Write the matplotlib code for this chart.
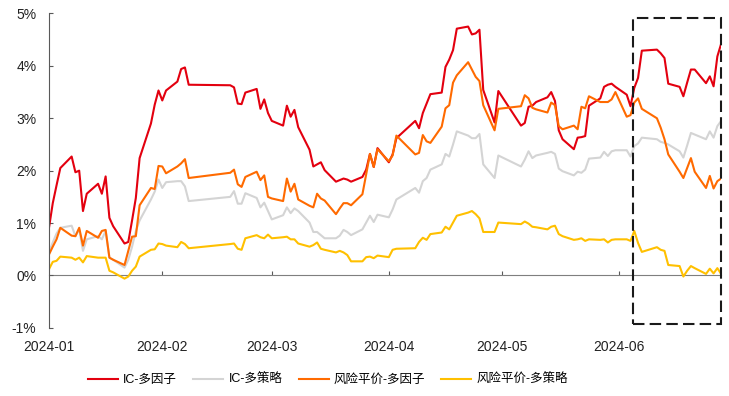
import numpy as np
import pandas as pd
import matplotlib
matplotlib.use("Agg")
import matplotlib.pyplot as plt
import matplotlib.dates as mdates
from matplotlib.patches import Rectangle
from matplotlib.ticker import FuncFormatter

plt.rcParams['font.family'] = ['Liberation Sans', 'Noto Sans CJK SC']
plt.rcParams['axes.unicode_minus'] = False

# trading days, 2024 H1 (A-share calendar)
holidays = ['2024-02-09', '2024-02-12', '2024-02-13', '2024-02-14', '2024-02-15',
            '2024-02-16', '2024-04-04', '2024-04-05', '2024-05-01', '2024-05-02',
            '2024-05-03', '2024-06-10']
dates = pd.bdate_range('2024-01-02', '2024-06-28')
dates = dates[~dates.isin(pd.to_datetime(holidays))]

labels = ['IC-多因子', 'IC-多策略', '风险平价-多因子', '风险平价-多策略']
colors = ['#E3000F', '#D4D4D4', '#FF6A00', '#FFC000']

# cumulative excess return, %
ic_factor = [
    0.91, 1.38, 1.72, 2.05, 2.27, 1.97, 2.00, 1.23, 1.56, 1.75, 1.56, 1.89, 1.10, 0.94, 0.61, 0.64, 1.05, 1.48, 2.24, 2.90, 3.26, 3.53,
    3.34, 3.53, 3.70, 3.94, 3.97, 3.64, 3.63, 3.59, 3.28, 3.27, 3.49, 3.56, 3.18, 3.36, 3.10,
    2.95, 2.86, 3.24, 3.03, 3.16, 2.83, 2.40, 2.08, 2.12, 2.16, 2.01, 1.79, 1.82, 1.85, 1.83, 1.79, 1.88, 2.02, 2.32, 2.07, 2.43,
    2.16, 2.31, 2.62, 2.95, 2.81, 3.10, 3.28, 3.46, 3.49, 3.98, 4.12, 4.30, 4.71, 4.75, 4.60, 4.62, 4.69, 3.54, 2.92, 3.52,
    2.86, 2.91, 3.22, 3.24, 3.31, 3.40, 3.50, 3.33, 2.77, 2.60, 2.41, 2.63, 2.64, 2.66, 3.24, 3.38, 3.60, 3.64, 3.66, 3.60,
    3.45, 3.23, 3.58, 3.77, 4.29, 4.31, 4.24, 4.15, 3.66, 3.60, 3.42, 3.68, 3.93, 3.93, 3.67, 3.80, 3.61, 4.18, 4.42]
ic_multi = [
    0.44, 0.63, 0.80, 0.91, 0.95, 0.75, 0.88, 0.47, 0.69, 0.75, 0.69, 0.85, 0.34, 0.30, 0.15, 0.30, 0.55, 0.85, 1.05, 1.45, 1.60, 1.83,
    1.67, 1.78, 1.80, 1.80, 1.70, 1.42, 1.50, 1.61, 1.37, 1.37, 1.57, 1.48, 1.30, 1.39, 1.23,
    1.07, 1.15, 1.30, 1.19, 1.28, 1.23, 1.01, 0.83, 0.83, 0.77, 0.71, 0.71, 0.76, 0.87, 0.83, 0.77, 0.88, 1.01, 1.14, 1.02, 1.16,
    1.11, 1.26, 1.45, 1.67, 1.58, 1.80, 1.86, 2.02, 2.12, 2.32, 2.27, 2.50, 2.75, 2.67, 2.62, 2.62, 2.70, 2.12, 1.86, 2.29,
    2.08, 2.21, 2.37, 2.24, 2.29, 2.34, 2.36, 2.32, 2.04, 1.99, 1.91, 1.98, 1.96, 2.02, 2.23, 2.25, 2.36, 2.28, 2.37, 2.39,
    2.39, 2.27, 2.47, 2.52, 2.63, 2.60, 2.55, 2.53, 2.50, 2.37, 2.25, 2.48, 2.72, 2.69, 2.60, 2.75, 2.63, 2.85, 2.95]
rp_factor = [
    0.40, 0.55, 0.69, 0.91, 0.76, 0.75, 0.91, 0.57, 0.85, 0.72, 0.85, 0.87, 0.34, 0.30, 0.20, 0.47, 0.74, 0.75, 1.34, 1.67, 1.65, 2.09,
    2.08, 1.95, 2.08, 2.14, 2.22, 1.86, 1.96, 2.02, 1.74, 1.69, 1.88, 1.98, 1.82, 1.91, 1.50,
    1.47, 1.42, 1.85, 1.60, 1.75, 1.45, 1.33, 1.30, 1.56, 1.47, 1.43, 1.17, 1.28, 1.38, 1.38, 1.34, 1.55, 1.93, 2.32, 2.07, 2.41,
    2.18, 2.29, 2.67, 2.31, 2.34, 2.68, 2.56, 2.53, 2.84, 3.19, 3.25, 3.68, 3.82, 4.07, 3.93, 3.79, 3.71, 3.25, 2.77, 3.18,
    3.23, 3.44, 3.38, 3.20, 3.17, 3.11, 3.30, 3.25, 2.85, 2.79, 2.86, 2.79, 3.22, 3.19, 3.42, 3.31, 3.31, 3.31, 3.36, 3.50,
    3.03, 3.06, 3.30, 3.38, 3.18, 3.00, 2.82, 2.60, 2.31, 1.98, 1.86, 2.05, 2.24, 1.98, 1.67, 1.90, 1.66, 1.80, 1.85]
rp_multi = [
    0.12, 0.26, 0.28, 0.36, 0.34, 0.30, 0.34, 0.25, 0.37, 0.34, 0.34, 0.34, 0.09, 0.06, -0.06, -0.02, 0.09, 0.17, 0.36, 0.49, 0.50, 0.61,
    0.60, 0.57, 0.54, 0.64, 0.60, 0.52, 0.60, 0.61, 0.51, 0.49, 0.71, 0.77, 0.73, 0.71, 0.78,
    0.71, 0.73, 0.74, 0.69, 0.69, 0.61, 0.55, 0.58, 0.63, 0.51, 0.49, 0.44, 0.47, 0.44, 0.39, 0.27, 0.27, 0.35, 0.36, 0.33, 0.38,
    0.35, 0.49, 0.51, 0.52, 0.64, 0.72, 0.68, 0.79, 0.82, 0.93, 0.88, 1.01, 1.14, 1.20, 1.23, 1.17, 1.09, 0.83, 0.83, 1.01,
    0.98, 1.03, 0.99, 0.93, 0.92, 0.88, 0.93, 0.95, 0.79, 0.75, 0.68, 0.69, 0.71, 0.66, 0.69, 0.68, 0.69, 0.63, 0.68, 0.69,
    0.69, 0.66, 0.85, 0.62, 0.45, 0.54, 0.49, 0.47, 0.20, 0.18, -0.02, 0.09, 0.18, 0.14, 0.03, 0.13, 0.04, 0.14, 0.03]

series = [ic_factor, ic_multi, rp_factor, rp_multi]
month_ticks = pd.to_datetime(['2024-02-01', '2024-03-01', '2024-04-01', '2024-05-01', '2024-06-01'])
box_start = pd.Timestamp('2024-06-04 18:00')
box_low, box_high = -0.93, 4.92

fig = plt.figure(figsize=(7.29, 3.96), dpi=100)
ax = fig.add_axes([0.0672, 0.172, 0.922, 0.794])

for vals, lab, col in zip(series, labels, colors):
    ax.plot(dates, vals, color=col, lw=1.5, label=lab)

ax.set_xlim(dates[0], dates[-1])
ax.set_ylim(-1, 5)
ax.set_yticks(np.arange(-1, 6, 1))
ax.yaxis.set_major_formatter(FuncFormatter(lambda v, p: f'{v:.0f}%'))
ax.tick_params(axis='y', direction='in', length=3, color='#595959', labelsize=10, pad=9, labelcolor='#222222')

# month labels along the bottom
ax.set_xticks([dates[0]] + list(month_ticks))
ax.xaxis.set_major_formatter(mdates.DateFormatter('%Y-%m'))
ax.tick_params(axis='x', length=0, labelsize=10, pad=9, labelcolor='#222222')

for s in ['top', 'right', 'bottom']:
    ax.spines[s].set_visible(False)
ax.spines['left'].set_color('#595959')

# zero line with month ticks
zero = ax.secondary_xaxis(0, transform=ax.transData)
zero.set_xticks(month_ticks)
zero.tick_params(axis='x', direction='in', length=3, color='#595959', labelbottom=False)
zero.spines['bottom'].set_color('#7F7F7F')

# highlighted June window
x0 = mdates.date2num(box_start)
x1 = mdates.date2num(dates[-1])
ax.add_patch(Rectangle((x0, box_low), x1 - x0, box_high - box_low, fill=False,
                       ec='#1A1A1A', lw=1.5, ls=(0, (5.5, 2.5)), clip_on=False, zorder=5))

fig.legend(loc='center', bbox_to_anchor=(0.45, 0.04), ncol=4, frameon=False, fontsize=9,
           handlelength=2.4, handletextpad=0.4, columnspacing=1.3)

fig.savefig('out.png', dpi=100)
